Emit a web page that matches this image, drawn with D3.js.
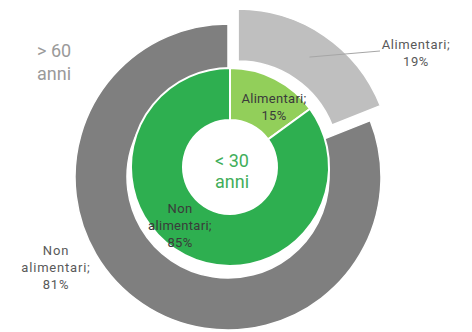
<!DOCTYPE html>
<html><head><meta charset="utf-8">
<script src="https://cdn.jsdelivr.net/npm/d3@7"></script>
<style>body{margin:0;background:#fff}svg{display:block}text{font-family:Roboto,"Noto Sans",sans-serif}</style>
</head><body>
<script>
const categories = ["Alimentari", "Non alimentari"];
const over60 = [19, 81];
const under30 = [15, 85];
const outerColors = ["#bfbfbf", "#7f7f7f"];
const innerColors = ["#92cf5a", "#2eaf50"];

const W = 472, H = 332;
const svg = d3.select("body").append("svg").attr("width", W).attr("height", H);

const pie = d3.pie().sort(null).value(d => d.v);

// outer ring (> 60 anni)
const oc = [228, 177], oR = 153, oRi = 101, explode = 18;
const outerArc = d3.arc().innerRadius(oRi).outerRadius(oR);
const outerData = pie(categories.map((c, i) => ({c, v: over60[i], i})));
const gO = svg.append("g").attr("transform", `translate(${oc})`);
function offset(d, k) {
  const a = (d.startAngle + d.endAngle) / 2;
  return [k * Math.sin(a), -k * Math.cos(a)];
}
gO.selectAll("path").data(outerData).join("path")
  .attr("d", outerArc)
  .attr("transform", d => d.index === 0 ? `translate(${offset(d, explode)})` : null)
  .attr("fill", d => outerColors[d.index])
  .attr("stroke", "#fff").attr("stroke-width", 1.5);

// inner ring (< 30 anni)
const ic = [230, 167], iR = 99, iRi = 47;
const innerArc = d3.arc().innerRadius(iRi).outerRadius(iR);
const innerData = pie(categories.map((c, i) => ({c, v: under30[i], i})));
const gI = svg.append("g").attr("transform", `translate(${ic})`);
gI.selectAll("path").data(innerData).join("path")
  .attr("d", innerArc)
  .attr("fill", d => innerColors[d.index])
  .attr("stroke", "#fff").attr("stroke-width", 2);

// leader line for outer Alimentari
const cen = outerArc.centroid(outerData[0]);
const off = offset(outerData[0], explode);
gO.append("line")
  .attr("x1", cen[0] + off[0]).attr("y1", cen[1] + off[1])
  .attr("x2", 380 - oc[0]).attr("y2", 51 - oc[1])
  .attr("stroke", "#a6a6a6").attr("stroke-width", 1);

function label(lines, x, y, color, size, lh, ls) {
  const t = svg.append("text").attr("text-anchor", "middle").attr("fill", color)
    .attr("font-size", size).attr("letter-spacing", ls);
  lines.forEach((l, k) => t.append("tspan").attr("x", x).attr("y", y + k * lh).text(l));
}
label(["Alimentari;", `${over60[0]}%`], 416, 49, "#595959", 13, 17, 0.6);
label(["Non", "alimentari;", `${over60[1]}%`], 56, 255, "#595959", 13, 17, 0.8);
label(["Alimentari;", `${under30[0]}%`], 274, 103, "#3a3a3a", 13, 17, 0.3);
label(["Non", "alimentari;", `${under30[1]}%`], 180, 213, "#3a3a3a", 13, 17, 0.3);

// group titles
svg.append("text").attr("x", 37).attr("y", 57).attr("fill", "#9a9a9a").attr("font-size", 18).text("> 60");
svg.append("text").attr("x", 37).attr("y", 80).attr("fill", "#9a9a9a").attr("font-size", 18).text("anni");
label(["< 30", "anni"], 232, 167, "#3fae5a", 18, 21, 0);
</script>
</body></html>
